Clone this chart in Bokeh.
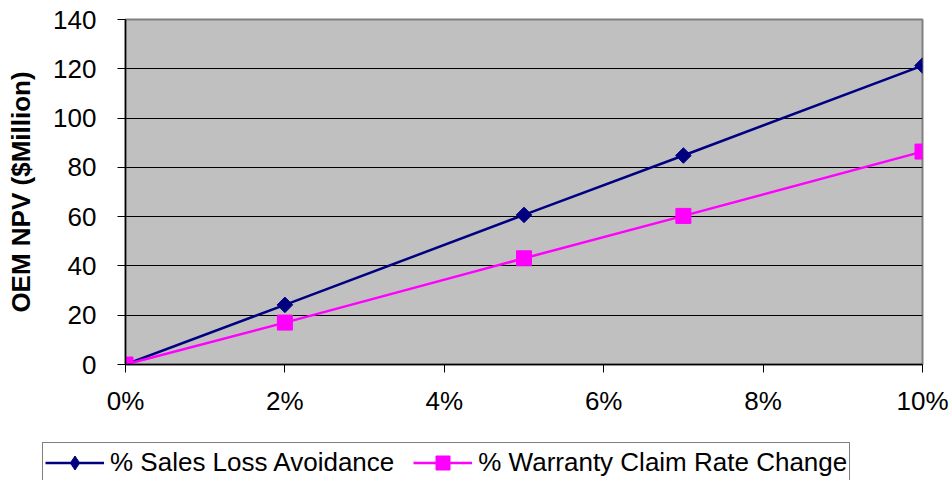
import numpy as np
from bokeh.plotting import figure
from bokeh.layouts import column
from bokeh.models import (ColumnDataSource, FixedTicker, NumeralTickFormatter,
                          Legend, LegendItem, Range1d)
from bokeh.embed import file_html
from bokeh.resources import INLINE

# Change in rate (fraction) versus OEM NPV in $ million
rate = [0.0, 0.02, 0.05, 0.07, 0.10]
sales_loss_avoidance = [0.0, 24.2, 60.7, 84.8, 121.3]
warranty_claim_change = [0.0, 17.0, 43.1, 60.3, 86.4]
x_ticks = [0.0, 0.02, 0.04, 0.06, 0.08, 0.10]
y_ticks = [0, 20, 40, 60, 80, 100, 120, 140]
series_names = ["% Sales Loss Avoidance", "% Warranty Claim Rate Change"]

FONT = "Liberation Sans"
NAVY = "#000080"
MAGENTA = "#ff00ff"

p = figure(width=952, height=441, output_backend="svg", toolbar_location=None,
           x_range=Range1d(0, 0.10), y_range=Range1d(0, 140),
           frame_width=797, frame_height=345,
           min_border_left=125, min_border_right=30,
           min_border_top=19, min_border_bottom=77)
p.frame_align = False

p.background_fill_color = "#c0c0c0"
p.border_fill_color = "white"
p.outline_line_color = "#808080"
p.outline_line_width = 2

p.xgrid.visible = False
p.ygrid.grid_line_color = "black"
p.ygrid.grid_line_width = 1
p.ygrid.ticker = FixedTicker(ticks=y_ticks)

for ax in (p.xaxis[0], p.yaxis[0]):
    ax.axis_line_color = "black"
    ax.axis_line_width = 1.5
    ax.major_tick_line_color = "black"
    ax.major_tick_line_width = 1
    ax.major_tick_out = 8
    ax.major_tick_in = 0
    ax.minor_tick_line_color = None
    ax.major_label_text_font = FONT
    ax.major_label_text_font_size = "26px"
    ax.major_label_text_color = "black"

p.xaxis.ticker = FixedTicker(ticks=x_ticks)
p.xaxis.formatter = NumeralTickFormatter(format="0%")
p.xaxis.major_label_standoff = 13
p.yaxis.ticker = FixedTicker(ticks=y_ticks)
p.yaxis.major_label_standoff = 21

p.yaxis.axis_label = "OEM NPV ($Million)"
p.yaxis.axis_label_text_font = FONT
p.yaxis.axis_label_text_font_size = "26px"
p.yaxis.axis_label_text_font_style = "bold"
p.yaxis.axis_label_text_color = "black"
p.yaxis.axis_label_standoff = 14

src = ColumnDataSource(dict(x=rate, s=sales_loss_avoidance, w=warranty_claim_change))

p.line("x", "s", source=src, line_color=NAVY, line_width=2.5)
p.scatter("x", "s", source=src, marker="square", angle=np.pi / 4, size=11,
          fill_color=NAVY, line_color=NAVY)
p.line("x", "w", source=src, line_color=MAGENTA, line_width=2.5)
p.scatter("x", "w", source=src, marker="square", size=15,
          fill_color=MAGENTA, line_color=MAGENTA)

# Legend strip underneath the chart (its samples sit outside the visible range)
leg = figure(width=952, height=39, output_backend="svg", toolbar_location=None,
             x_range=Range1d(0, 1), y_range=Range1d(0, 1),
             min_border_left=42, min_border_right=0,
             min_border_top=1, min_border_bottom=0)
leg.frame_align = False
leg.axis.visible = False
leg.grid.visible = False
leg.outline_line_color = None
leg.background_fill_color = "white"

swatch = ColumnDataSource(dict(x=[-5], y=[-5]))
r1 = [leg.line("x", "y", source=swatch, line_color=NAVY, line_width=2.5),
      leg.scatter("x", "y", source=swatch, marker="diamond",
                  fill_color=NAVY, line_color=NAVY)]
r2 = [leg.line("x", "y", source=swatch, line_color=MAGENTA, line_width=2.5),
      leg.scatter("x", "y", source=swatch, marker="square",
                  fill_color=MAGENTA, line_color=MAGENTA)]

legend = Legend(items=[LegendItem(label=series_names[0], renderers=r1),
                       LegendItem(label=series_names[1], renderers=r2)],
                orientation="horizontal", location="top_left")
legend.label_text_font = FONT
legend.label_text_font_size = "26px"
legend.label_text_color = "black"
legend.glyph_width = 59
legend.glyph_height = 35
legend.label_standoff = 6
legend.spacing = 19
legend.padding = 2
legend.margin = 0
legend.border_line_color = "black"
legend.border_line_width = 1.5
legend.background_fill_color = "white"
legend.background_fill_alpha = 1
leg.add_layout(legend)

layout = column(p, leg, spacing=0)
open("out.html", "w").write(file_html(layout, INLINE))
